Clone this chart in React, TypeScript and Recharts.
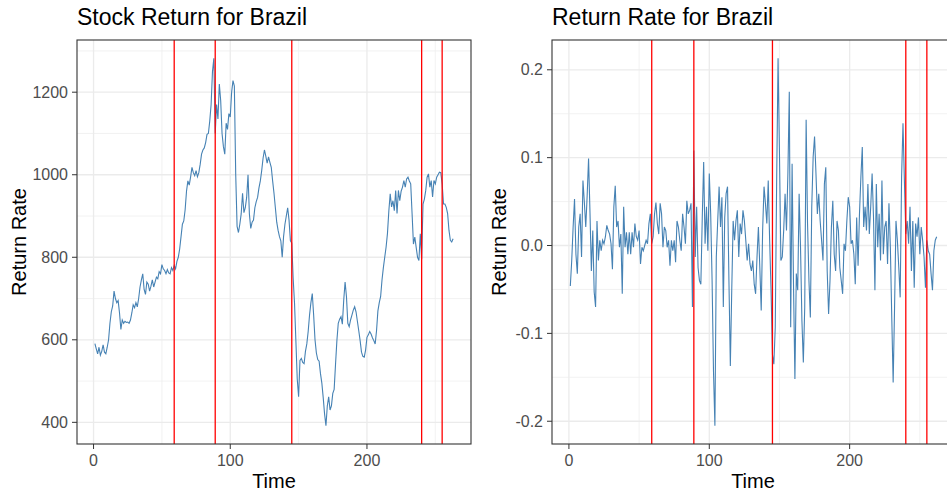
import { LineChart, Line, XAxis, YAxis, CartesianGrid, ReferenceLine } from 'recharts';

const FONT = '"Liberation Sans", Arial, sans-serif';

// stock level, one value per period starting at t = 1
const stockValues = [
  591, 578, 566, 582, 563, 572, 588, 570, 566, 582,
  600, 640, 668, 682, 718, 700, 690, 695, 665, 625,
  648, 640, 645, 642, 643, 640, 648, 665, 685, 678,
  690, 680, 700, 728, 745, 760, 722, 710, 740, 735,
  718, 730, 745, 728, 740, 752, 748, 765, 760, 782,
  772, 768, 760, 770, 762, 760, 775, 768, 780, 772,
  790, 800, 820, 850, 880, 888, 915, 960, 985, 975,
  995, 1018, 1005, 998, 1010, 995, 1005, 1025, 1050, 1060,
  1065, 1078, 1098, 1100, 1130, 1170, 1250, 1282, 1100, 1170,
  1135, 1220, 1180, 1100, 1068, 1050, 1125, 1110, 1148, 1140,
  1200, 1228, 1215, 1000, 875, 860, 880, 905, 955, 908,
  920, 945, 1000, 905, 870, 885, 890, 920, 935, 945,
  968, 985, 1010, 1040, 1060, 1045, 1028, 1043, 1030, 1018,
  985, 955, 920, 885, 865, 850, 840, 800, 850, 880,
  900, 920, 890, 840, 835, 750, 690, 598, 505, 462,
  550, 555, 545, 542, 572, 590, 620, 660, 690, 712,
  660, 600, 568, 552, 548, 518, 495, 460, 420, 392,
  440, 462, 430, 440, 470, 480, 540, 598, 640, 650,
  656, 638, 696, 740, 705, 640, 632, 648, 660, 672,
  680, 668, 645, 622, 598, 570, 560, 558, 575, 606,
  612, 620, 614, 605, 598, 590, 622, 670, 690, 705,
  745, 775, 800, 825, 858, 912, 954, 922, 937, 913,
  962, 906, 962, 937, 960, 970, 986, 970, 990, 994,
  985, 978, 906, 832, 849, 824, 800, 792, 857, 795,
  929, 941, 962, 994, 1002, 970, 986, 946, 986, 978,
  994, 1000, 1006, 1005, 978, 929, 929, 921, 906, 865,
  841, 837, 845,
];

// period returns, starting at t = 1
const returnValues = [
  -0.046, -0.017, 0.021, 0.053, -0.01, -0.032, 0.021, 0.036, -0.013, 0.074,
  0.049, 0.021, 0.057, 0.099, 0.038, -0.029, 0.017, -0.053, -0.07, 0.028,
  -0.017, 0.006, -0.006, 0.006, 0.002, 0.01, 0.023, 0.017, 0.013, 0.002,
  -0.027, 0.044, 0.068, 0.021, 0.028, -0.002, 0.013, -0.055, 0.044, -0.002,
  0.015, -0.01, 0.015, -0.01, 0.015, -0.002, 0.025, 0.01, 0.006, 0.017,
  -0.021, -0.002, -0.006, 0, 0.006, 0.002, 0.025, 0.036, 0.002, 0.01,
  0.036, 0.049, 0.025, 0.013, 0.048, 0.036, -0.002, 0.021, 0.017, -0.002,
  0.006, -0.023, 0.006, -0.006, 0.006, -0.019, 0.028, 0.021, 0.006, -0.006,
  0.036, 0.021, 0.002, 0.051, 0.036, 0.04, 0.048, -0.07, 0.108, -0.013,
  0.044, -0.025, -0.04, -0.044, 0.032, 0.095, 0.002, 0.044, -0.006, 0.082,
  0.036, -0.04, -0.143, -0.205, -0.013, 0.028, 0.067, 0.021, 0.055, -0.07,
  0.032, 0.059, 0.067, -0.04, -0.137, -0.051, 0.028, 0.006, 0.028, 0.04,
  -0.013, 0.025, 0.013, 0.04, 0.028, 0.006, -0.017, 0.002, -0.021, -0.029,
  -0.017, -0.044, -0.055, -0.013, 0.021, -0.025, -0.074, 0.017, 0.067, 0.048,
  0.025, 0.074, 0.006, -0.051, -0.124, -0.135, -0.093, 0.074, 0.213, 0.105,
  -0.017, -0.013, 0.017, 0.059, 0.017, 0.082, 0.175, -0.093, 0.093, -0.044,
  -0.152, -0.032, -0.051, 0.059, -0.002, -0.086, -0.133, -0.07, 0.143, 0.025,
  -0.04, -0.082, 0.044, 0.101, 0.124, 0.082, 0.036, 0.059, 0.028, 0.006,
  -0.017, 0.07, 0.089, -0.029, -0.078, -0.04, 0.021, 0.051, -0.01, -0.029,
  0.028, 0.017, -0.025, -0.04, -0.055, 0.002, -0.006, 0.028, 0.055, 0.044,
  0.002, 0.006, -0.01, -0.044, 0.032, -0.023, 0.036, 0.078, 0.112, 0.021,
  0.044, 0.017, 0.07, 0.013, 0.044, 0.082, 0.032, -0.051, 0.07, -0.002,
  0.036, -0.017, 0.074, -0.01, 0.021, 0.028, -0.021, 0.048, -0.002, -0.082,
  -0.156, -0.07, 0.028, 0.006, -0.025, -0.059, 0.078, 0.139, 0.074, 0.013,
  0.028, 0.002, 0.044, -0.029, 0.028, -0.048, 0.025, 0.01, 0.032, -0.01,
  0.021, 0.006, -0.013, -0.048, 0.006, -0.006, -0.01, -0.032, -0.051, -0.006,
  0.006, 0.01,
];

// break points marked in red
const breakPoints = [59, 89, 145, 240, 255];

const xTicks = [0, 100, 200];
const xMinor = [50, 150, 250];
const stockTicks = [400, 600, 800, 1000, 1200];
const stockMinor = [500, 700, 900, 1100, 1300];
const returnTicks = [-0.2, -0.1, 0, 0.1, 0.2];
const returnMinor = [-0.15, -0.05, 0.05, 0.15];

const toRows = (vals: number[]) => vals.map((v, i) => ({ t: i + 1, value: v }));

// ggplot-style 5% expansion
const expand = (lo: number, hi: number): [number, number] => {
  const pad = (hi - lo) * 0.05;
  return [lo - pad, hi + pad];
};

const tickStyle = { fill: '#4D4D4D', fontSize: 16, fontFamily: FONT };

function Panel({ values, yTicks, yMinor, fmt, width, yWidth, right }: {
  values: number[];
  yTicks: number[];
  yMinor: number[];
  fmt: (v: number) => string;
  width: number;
  yWidth: number;
  right: number;
}) {
  const data = toRows(values);
  const xDomain = expand(1, values.length);
  const yDomain = expand(Math.min(...values), Math.max(...values));
  return (
    <LineChart width={width} height={495} data={data} margin={{ top: 40, right, bottom: 0, left: 0 }}>
      <CartesianGrid horizontalValues={yMinor} verticalValues={xMinor} stroke="#EFEFEF" strokeWidth={0.8} />
      <CartesianGrid horizontalValues={yTicks} verticalValues={xTicks} stroke="#EBEBEB" strokeWidth={1.3} />
      <XAxis
        dataKey="t"
        type="number"
        domain={xDomain}
        ticks={xTicks}
        allowDataOverflow
        height={51}
        axisLine={false}
        tickLine={{ stroke: '#333333' }}
        tickSize={5}
        tickMargin={6}
        tick={tickStyle}
      />
      <YAxis
        type="number"
        domain={yDomain}
        ticks={yTicks}
        allowDataOverflow
        width={yWidth}
        axisLine={false}
        tickLine={{ stroke: '#333333' }}
        tickSize={5}
        tickMargin={4}
        tick={tickStyle}
        tickFormatter={fmt}
      />
      <Line
        type="linear"
        dataKey="value"
        stroke="#4682B4"
        strokeWidth={1.1}
        dot={false}
        isAnimationActive={false}
      />
      {breakPoints.map((b) => (
        <ReferenceLine key={b} x={b} stroke="#FF0000" strokeWidth={1.3} />
      ))}
    </LineChart>
  );
}

export default function App() {
  return (
    <div style={{ position: 'absolute', left: 0, top: 0, width: 947, height: 495, overflow: 'hidden', background: '#fff' }}>
      <div style={{ position: 'absolute', left: 0, top: 0 }}>
        <Panel values={stockValues} yTicks={stockTicks} yMinor={stockMinor} fmt={(v) => String(v)} width={480} yWidth={77} right={9} />
      </div>
      <div style={{ position: 'absolute', left: 476, top: 0 }}>
        <Panel values={returnValues} yTicks={returnTicks} yMinor={returnMinor} fmt={(v) => v.toFixed(1)} width={485} yWidth={76} right={6} />
      </div>
      <svg width={947} height={495} style={{ position: 'absolute', left: 0, top: 0, pointerEvents: 'none' }}>
        <rect x={77} y={40} width={394} height={404} fill="none" stroke="#333333" strokeWidth={1.1} />
        <rect x={552} y={40} width={403} height={404} fill="none" stroke="#333333" strokeWidth={1.1} />
        <g fontFamily={FONT} fill="#000">
          <text x={77} y={25} fontSize={23}>Stock Return for Brazil</text>
          <text x={552} y={25} fontSize={23}>Return Rate for Brazil</text>
          <text x={274} y={488} fontSize={20} textAnchor="middle">Time</text>
          <text x={753} y={488} fontSize={20} textAnchor="middle">Time</text>
          <text x={26} y={242} fontSize={20} textAnchor="middle" transform="rotate(-90 26 242)">Return Rate</text>
          <text x={506} y={242} fontSize={20} textAnchor="middle" transform="rotate(-90 506 242)">Return Rate</text>
        </g>
      </svg>
    </div>
  );
}
